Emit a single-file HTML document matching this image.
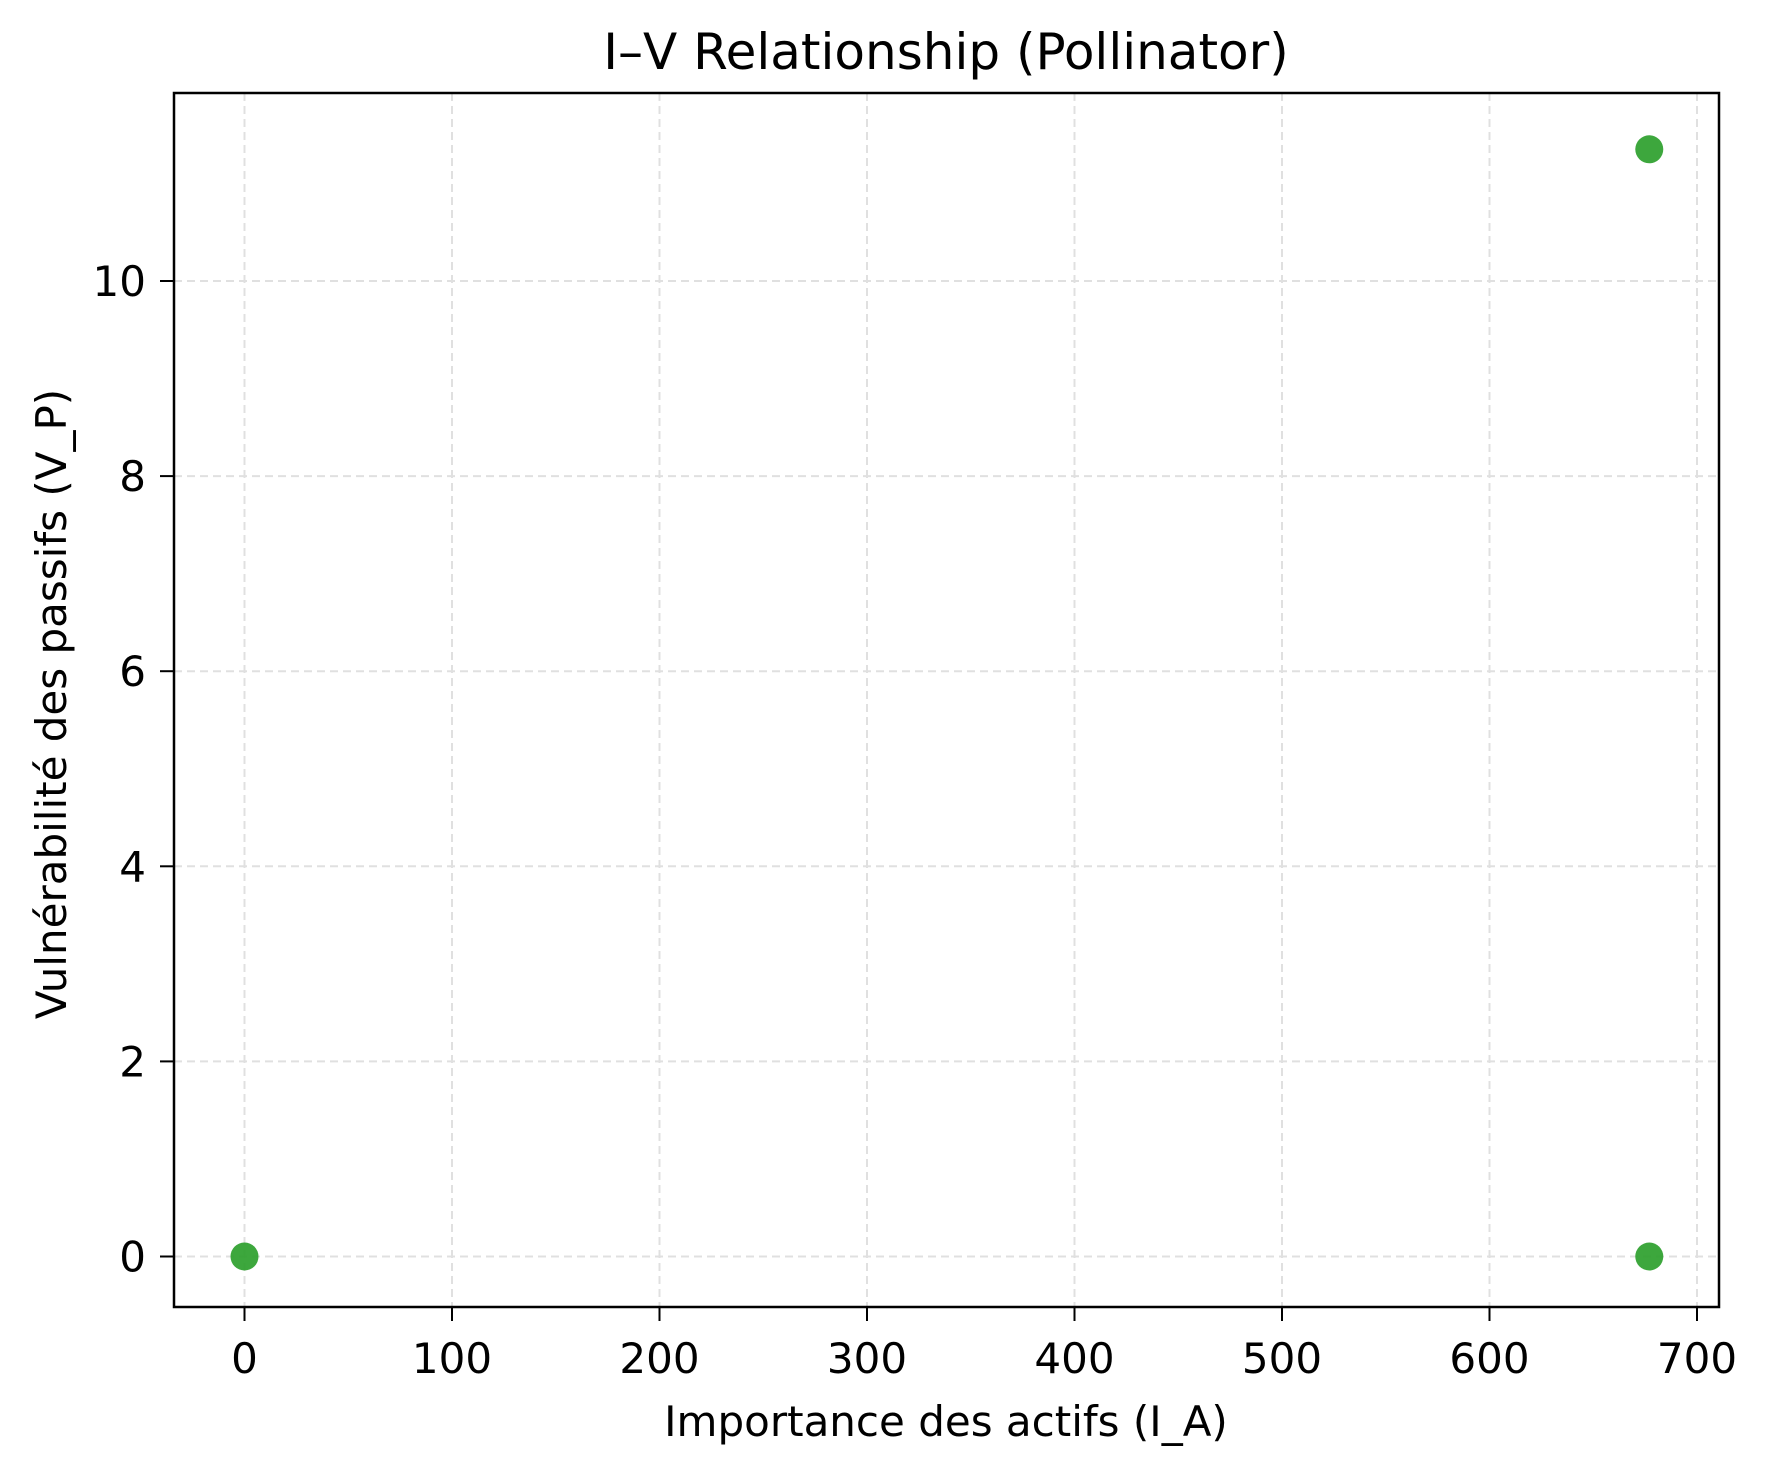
<!DOCTYPE html>
<html><head><meta charset="utf-8"><style>
body{margin:0;background:#fff}
svg{display:block;font-family:"DejaVu Sans","Liberation Sans",sans-serif}
</style></head><body>
<svg id="chart" width="1766" height="1468" xmlns="http://www.w3.org/2000/svg">
<rect width="1766" height="1468" fill="#fff"/>
<g id="grid"></g>
<g id="points"></g>
<rect x="174" y="93" width="1545" height="1214" fill="none" stroke="#000" stroke-width="2.5"/>
<g id="ticks"></g>
<text x="946" y="69" font-size="50" text-anchor="middle">I–V Relationship (Pollinator)</text>
<text x="946" y="1436" font-size="42" text-anchor="middle">Importance des actifs (I_A)</text>
<text transform="translate(66,704) rotate(-90)" font-size="42" text-anchor="middle">Vulnérabilité des passifs (V_P)</text>
</svg>
<script>
const xTicks=[0,100,200,300,400,500,600,700];
const yTicks=[0,2,4,6,8,10];
const xValues=[0,677,677];
const yValues=[0,0,11.35];
const NS="http://www.w3.org/2000/svg";
function sx(v){return 244.5+v*2.075;}
function sy(v){return 1256.5-v*97.55;}
function mk(t,a,p){const e=document.createElementNS(NS,t);for(const k in a)e.setAttribute(k,a[k]);p.appendChild(e);return e;}
const grid=document.getElementById('grid'),ticks=document.getElementById('ticks'),pts=document.getElementById('points');
xTicks.forEach(v=>{
  const g=mk('line',{x1:sx(v),x2:sx(v),y1:93,y2:1307,stroke:'#e0e0e0','stroke-width':2,'stroke-dasharray':'8,5'},grid);
  
  
  const t=mk('line',{x1:sx(v),x2:sx(v),y1:1307,y2:1321,stroke:'#000','stroke-width':2},ticks);
  
  
  const l=mk('text',{x:sx(v),y:1373,'font-size':42,'text-anchor':'middle'},ticks);
  l.textContent=v;
  
  
});
yTicks.forEach(v=>{
  const g=mk('line',{x1:174,x2:1719,y1:sy(v),y2:sy(v),stroke:'#e0e0e0','stroke-width':2,'stroke-dasharray':'8,5'},grid);
  
  
  const t=mk('line',{x1:160,x2:174,y1:sy(v),y2:sy(v),stroke:'#000','stroke-width':2},ticks);
  
  
  const l=mk('text',{x:146,y:sy(v)+15,'font-size':42,'text-anchor':'end'},ticks);
  l.textContent=v;
  
  
});
xValues.forEach((v,i)=>{
  const c=mk('circle',{cx:sx(v),cy:sy(yValues[i]),r:14,fill:'#2ca02c','fill-opacity':0.92},pts);
  
  
});
</script>
</body></html>
